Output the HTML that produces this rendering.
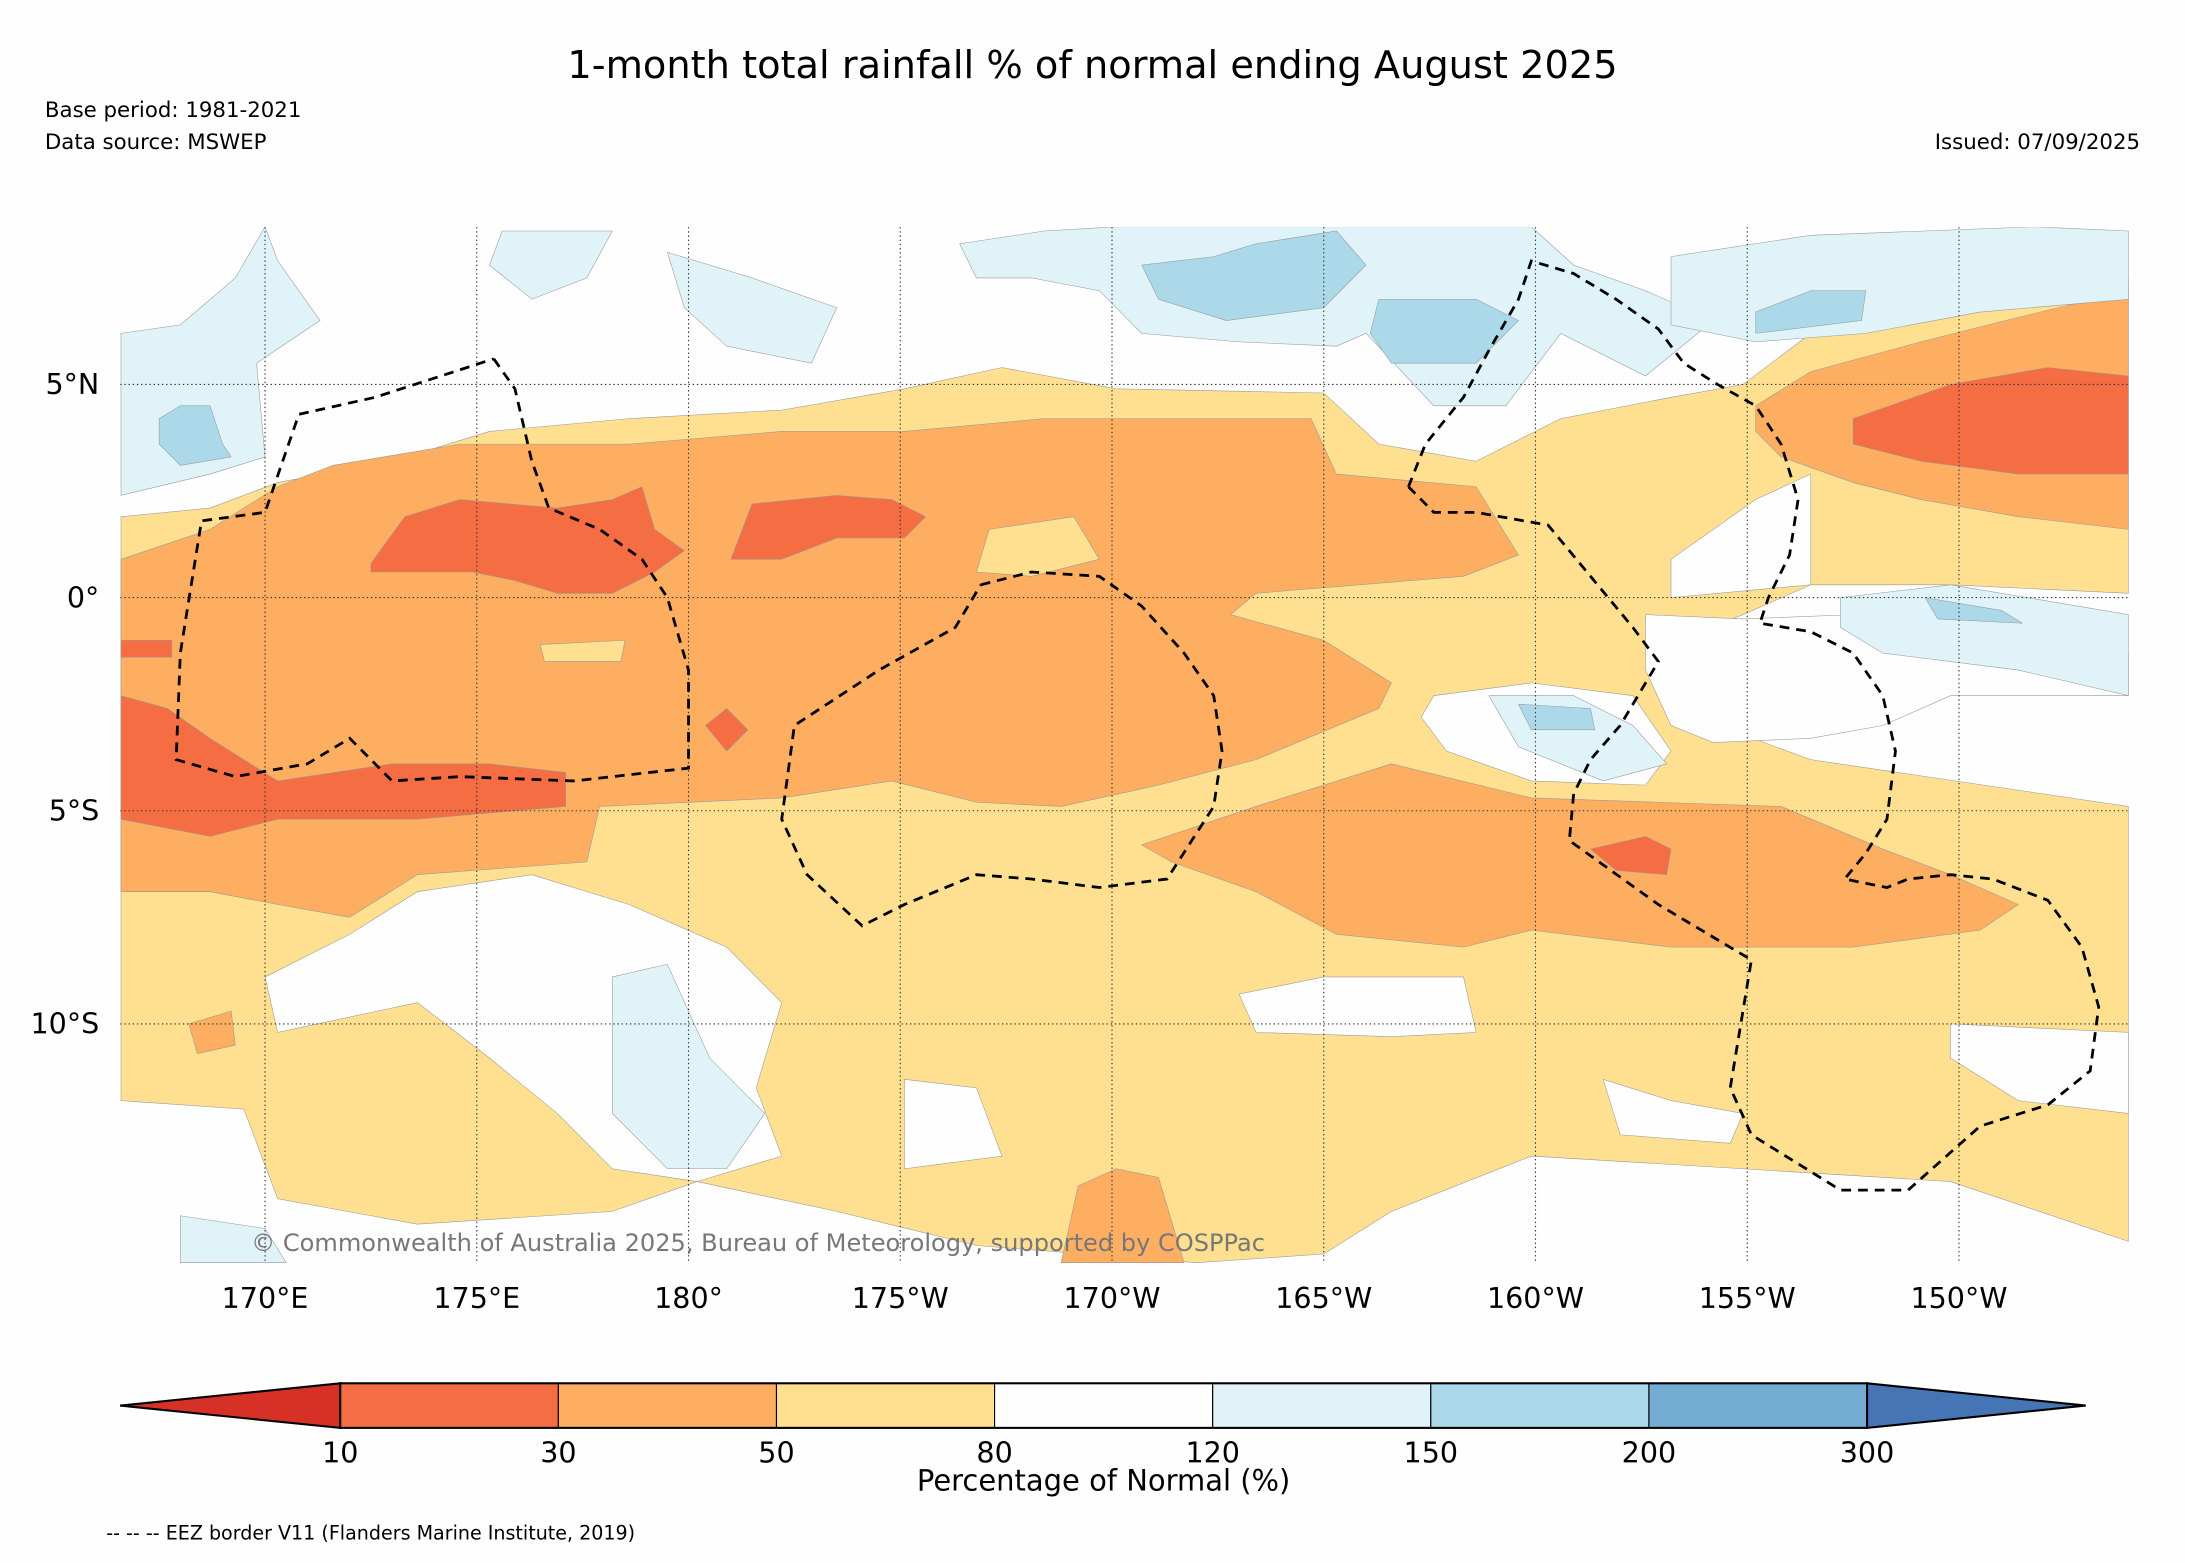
<!DOCTYPE html>
<html><head><meta charset="utf-8"><style>
html,body{margin:0;padding:0;background:#fdfefd;}
svg{display:block;font-family:"DejaVu Sans","Liberation Sans",sans-serif;}
</style></head><body>
<svg id="chart" width="2185" height="1563" viewBox="0 0 1568 1122" xmlns="http://www.w3.org/2000/svg">
<rect width="1568" height="1122" fill="#fdfefd"/>
<text x="784" y="56" font-size="27.5" text-anchor="middle" fill="#000">1-month total rainfall % of normal ending August 2025</text>
<text x="32" y="84" font-size="15.3">Base period: 1981-2021</text>
<text x="32" y="107" font-size="15.3">Data source: MSWEP</text>
<text x="1536" y="107" font-size="15.3" text-anchor="end">Issued: 07/09/2025</text>
<defs><clipPath id="mapclip"><rect x="86" y="163" width="1442" height="744"/></clipPath></defs>
<g id="map" clip-path="url(#mapclip)">
<rect x="86" y="163" width="1442" height="744" fill="#fdfefd"/>
<g id="fills"></g><g id="grid"></g><g id="eez"></g>
</g>
<text x="180" y="898" font-size="17.3" fill="#777">© Commonwealth of Australia 2025, Bureau of Meteorology, supported by COSPPac</text>
<g id="axes"></g>
<g id="colorbar"></g>
<text x="792" y="1070" font-size="20.8" text-anchor="middle">Percentage of Normal (%)</text>
<text x="76" y="1105" font-size="13.7">-- -- -- EEZ border V11 (Flanders Marine Institute, 2019)</text>
</svg>
<script>
const lonTicks=[170,175,180,185,190,195,200,205,210];
const lonLabels=["170°E","175°E","180°","175°W","170°W","165°W","160°W","155°W","150°W"];
const latTicks=[5,0,-5,-10];
const latLabels=["5°N","0°","5°S","10°S"];
const cbBounds=[10,30,50,80,120,150,200,300];
const cbColors=["#f46d43","#fdae61","#fee090","#fdfefd","#e0f3f8","#abd9e9","#74add1"];
const yellowFill=[[166.6,1.9],[168.7,2.1],[170.3,2.7],[173,3.2],[175.3,3.9],[178.6,4.2],[182.2,4.4],[185.1,4.9],[187.4,5.4],[190.1,4.9],[195,4.8],[196.3,3.6],[198.6,3.2],[200.6,4.2],[203.2,4.7],[204.9,5.0],[206.5,6.2],[209.1,7.0],[214,7.5],[214,0.1],[209.8,0.3],[206.5,0.3],[204.9,-0.4],[202.6,-1.3],[203.2,-2.6],[206.5,-3.8],[214,-4.9],[214,-15.1],[209.8,-13.7],[204.9,-13.4],[199.9,-13.1],[196.6,-14.4],[195,-15.4],[192,-15.6],[186.8,-15.2],[183.5,-14.4],[180.2,-13.7],[178.2,-14.4],[173.6,-14.7],[170.3,-14.1],[169.5,-12],[166.6,-11.8]];
const whiteHoles=[
[[173.6,-6.9],[176.3,-6.5],[178.6,-7.2],[180.9,-8.2],[182.2,-9.5],[181.6,-11.5],[182.2,-13.1],[180.2,-13.7],[178.2,-13.4],[176.9,-12.1],[175.3,-10.8],[173.6,-9.5],[170.3,-10.2],[170,-8.9],[172,-7.9]],
[[202.6,-0.4],[204.9,-0.5],[207.5,-0.4],[214,-1.3],[214,-2.3],[209.8,-2.3],[208.2,-3],[206.5,-3.3],[204.2,-3.4],[203.2,-3],[202.6,-1.7]],
[[203.2,0.9],[205.2,2.3],[206.5,2.9],[206.5,0.3],[203.2,0]],
[[197.6,-2.3],[199.9,-2],[202.3,-2.3],[203.2,-3.6],[202.6,-4.4],[199.9,-4.3],[197.9,-3.6],[197.3,-2.8]],
[[193,-9.3],[195,-8.9],[198.3,-8.9],[198.6,-10.2],[196.6,-10.3],[193.4,-10.2]],
[[209.8,-10],[214,-10.2],[214,-12.1],[211.4,-11.8],[209.8,-10.8]],
[[201.6,-11.3],[203.2,-11.8],[204.9,-12.1],[204.6,-12.8],[202,-12.6]],
[[185.1,-11.3],[186.8,-11.5],[187.4,-13.1],[185.1,-13.4]]];
const orangeFills=[
[[166.6,0.9],[168.7,1.6],[170.3,2.6],[171.6,3.1],[174.6,3.6],[178.6,3.6],[182.2,3.9],[185.1,3.9],[188.4,4.2],[191.7,4.2],[194.7,4.2],[195.3,2.9],[198.6,2.6],[199.6,1],[198.3,0.5],[193.4,0.1],[192.8,-0.4],[195,-1],[196.6,-2],[196.3,-2.6],[193.4,-3.8],[191.1,-4.4],[188.8,-4.9],[186.8,-4.8],[184.8,-4.3],[182.2,-4.7],[177.9,-4.9],[177.6,-6.2],[173.6,-6.5],[172,-7.5],[170.3,-7.2],[168.7,-6.9],[166.6,-6.9]],
[[190.7,-5.8],[193.4,-4.9],[196.6,-3.9],[199.9,-4.7],[205.8,-4.9],[208.2,-5.9],[209.8,-6.5],[211.4,-7.2],[210.5,-7.8],[207.5,-8.2],[203.2,-8.2],[199.9,-7.8],[198.3,-8.2],[195.3,-7.9],[193.4,-6.9],[191.4,-6.2]],
[[205.2,4.5],[206.5,5.3],[209.1,6],[211.1,6.5],[214,7.2],[214,1.6],[211.4,1.9],[209.1,2.3],[207.5,2.7],[205.8,3.3],[205.2,3.9]],
[[189.2,-13.8],[190.1,-13.4],[191.1,-13.6],[191.7,-15.6],[188.8,-15.6]],
[[168.2,-10],[169.2,-9.7],[169.3,-10.5],[168.4,-10.7]]];
const yellowInOrange=[[[187.1,1.6],[189.1,1.9],[189.7,0.9],[188.1,0.5],[186.8,0.6]],[[176.5,-1.1],[178.5,-1],[178.4,-1.5],[176.6,-1.5]]];
const redFills=[
[[166.6,-2.3],[167.7,-2.6],[168.7,-3.3],[170.3,-4.3],[173,-3.9],[175.3,-3.9],[177.1,-4.1],[177.1,-4.9],[173.6,-5.2],[170.3,-5.2],[168.7,-5.6],[166.6,-5.2]],
[[172.5,0.8],[173.3,1.9],[174.6,2.3],[176.9,2.1],[178.2,2.3],[178.9,2.6],[179.2,1.6],[179.9,1.1],[179.2,0.6],[178.2,0.1],[176.9,0.1],[175.9,0.4],[174.9,0.6],[173.6,0.6],[172.5,0.6]],
[[181,0.9],[181.5,2.2],[183.5,2.4],[184.8,2.3],[185.6,1.9],[185.1,1.4],[183.5,1.4],[182.2,0.9]],
[[207.5,4.2],[209.8,5],[212.1,5.4],[214,5.2],[214,2.9],[211.4,2.9],[209.1,3.2],[207.5,3.6]],
[[201.3,-5.9],[202.6,-5.6],[203.2,-5.9],[203.1,-6.5],[201.9,-6.4]],
[[180.4,-3],[180.9,-2.6],[181.4,-3.1],[180.9,-3.6]],
[[166.6,-1],[167.8,-1],[167.8,-1.4],[166.6,-1.4]]];
const lightBlueFills=[
[[166.6,6.2],[168,6.4],[169.3,7.5],[170,8.7],[170.3,7.9],[171.3,6.5],[169.8,5.5],[170,3.3],[168.7,2.9],[166.6,2.4]],
[[186.4,8.3],[188.4,8.6],[190.1,8.7],[199.9,8.7],[200.9,7.8],[202.6,7.2],[204.2,6.5],[202.6,5.2],[200.6,6.2],[199.3,4.5],[197.6,4.5],[196,6.2],[195.3,5.9],[193,6],[190.7,6.2],[189.7,7.2],[188.1,7.5],[186.8,7.5]],
[[203.2,8],[206.5,8.5],[211.8,8.7],[214,8.6],[214,7],[210.5,6.7],[207.8,6.2],[205.2,6],[203.2,6.4]],
[[175.6,8.6],[178.2,8.6],[177.6,7.5],[176.3,7],[175.3,7.8]],
[[179.5,8.1],[181.5,7.5],[183.5,6.8],[182.9,5.5],[180.9,5.9],[179.9,6.8]],
[[178.2,-8.9],[179.5,-8.6],[180.5,-10.8],[181.8,-12.1],[180.9,-13.4],[179.5,-13.4],[178.2,-12.1]],
[[207.2,0],[209.8,0.3],[214,-0.4],[214,-2.3],[211.4,-1.7],[208.2,-1.3],[207.2,-0.7]],
[[198.9,-2.3],[200.9,-2.3],[202.3,-3],[203.1,-3.9],[201.6,-4.3],[199.6,-3.5]],
[[168,-14.5],[170,-14.8],[170.5,-15.6],[168,-15.6]]];
const midBlueFills=[
[[167.5,4.2],[168,4.5],[168.7,4.5],[169,3.6],[169.2,3.3],[168,3.1],[167.5,3.6]],
[[190.7,7.8],[192.4,8],[193.4,8.3],[195.3,8.6],[196,7.8],[195,6.8],[192.7,6.5],[191.1,7.0]],
[[196.3,7],[198.6,7],[199.6,6.5],[198.6,5.5],[196.6,5.5],[196.1,6.2]],
[[205.2,6.7],[206.5,7.2],[207.8,7.2],[207.7,6.5],[205.2,6.2]],
[[199.6,-2.5],[201.3,-2.6],[201.4,-3.1],[199.9,-3.1]],
[[209.2,0],[211,-0.3],[211.5,-0.6],[209.5,-0.5]]];
const eezLines=[
[[175.4,5.6],[175.9,4.9],[176.3,3.2],[176.7,2.1],[177.9,1.6],[178.9,0.9],[179.5,0],[180,-1.7],[180,-4],[177.3,-4.3],[174.6,-4.2],[173,-4.3],[172,-3.3],[171,-3.9],[169.3,-4.2],[167.9,-3.8],[168,-1.3],[168.5,1.8],[170,2],[170.8,4.3],[172.6,4.7],[175.4,5.6]],
[[186.9,0.3],[188.1,0.6],[189.7,0.5],[190.7,-0.2],[191.7,-1.3],[192.4,-2.3],[192.6,-3.6],[192.4,-4.9],[191.3,-6.6],[189.7,-6.8],[188.1,-6.6],[186.8,-6.5],[185.1,-7.2],[184.1,-7.7],[182.8,-6.5],[182.2,-5.2],[182.5,-3],[184.5,-1.7],[186.3,-0.7],[186.9,0.3]],
[[197,2.6],[197.6,2],[198.6,2],[200.3,1.7],[201.3,0.5],[202.3,-0.7],[202.9,-1.5],[202,-3],[201.3,-3.8],[200.9,-4.6],[200.8,-5.7],[202.9,-7.2],[205.1,-8.5],[204.6,-11.5],[205.1,-12.6],[207.2,-13.9],[208.8,-13.9],[210.5,-12.4],[212.1,-11.9],[213.1,-11.1],[213.3,-9.6],[212.9,-8.2],[212.1,-7.1],[210.8,-6.6],[209.8,-6.5],[208.8,-6.6],[208.3,-6.8],[207.3,-6.6],[207.8,-6],[208.3,-5.2],[208.5,-3.6],[208.2,-2.3],[207.5,-1.3],[206.5,-0.8],[205.3,-0.6],[205.5,0],[206,1],[206.2,2.3],[205.8,3.6],[205.2,4.5],[204.3,5],[203.5,5.5],[202.9,6.3],[201.9,7],[200.9,7.6],[199.9,7.9],[199.6,7],[198.9,5.8],[198.3,4.7],[197.4,3.6],[197,2.6]]];

const NS='http://www.w3.org/2000/svg';
const X=lon=>190+(lon-170)*30.4;
const Y=lat=>429-lat*30.6;
function mk(tag,attrs,parent){const e=document.createElementNS(NS,tag);for(const k in attrs)e.setAttribute(k,attrs[k]);parent.appendChild(e);return e;}
function pathOf(pts,close){return pts.map((p,i)=>(i?'L':'M')+X(p[0]).toFixed(1)+' '+Y(p[1]).toFixed(1)).join(' ')+(close?' Z':'');}
const fills=document.getElementById('fills');
function layer(list,color,name){list.forEach(pts=>{const p=mk('path',{d:pathOf(pts,true),fill:color,stroke:'#999','stroke-width':0.4},fills);

});}
layer([yellowFill],'#fee090','rain-50-80-region');
layer(whiteHoles,'#fdfefd','rain-80-120-region');
layer(orangeFills,'#fdae61','rain-30-50-region');
layer(yellowInOrange,'#fee090','rain-50-80-region');
layer(redFills,'#f46d43','rain-10-30-region');
layer(lightBlueFills,'#e0f3f8','rain-120-150-region');
layer(midBlueFills,'#abd9e9','rain-150-200-region');
const grid=document.getElementById('grid');
lonTicks.forEach(l=>{const g=mk('line',{x1:X(l),x2:X(l),y1:163,y2:907,stroke:'#333','stroke-width':0.8,'stroke-dasharray':'1,2'},grid);

});
latTicks.forEach(l=>{const g=mk('line',{x1:86,x2:1528,y1:Y(l),y2:Y(l),stroke:'#333','stroke-width':0.8,'stroke-dasharray':'1,2'},grid);

});
const eez=document.getElementById('eez');
eezLines.forEach(pts=>{const e=mk('path',{d:pathOf(pts,false),fill:'none',stroke:'#000','stroke-width':2,'stroke-dasharray':'7,5'},eez);

});
const axes=document.getElementById('axes');
lonTicks.forEach((l,i)=>{const t=mk('text',{x:X(l),y:939,'font-size':20.5,'text-anchor':'middle'},axes);t.textContent=lonLabels[i];

});
latTicks.forEach((l,i)=>{const t=mk('text',{x:71,y:Y(l)+7,'font-size':20.5,'text-anchor':'end'},axes);t.textContent=latLabels[i];

});
const cb=document.getElementById('colorbar');
const cx0=244,cx1=1340,cy0=993,cy1=1025,n=cbColors.length,seg=(cx1-cx0)/n;
const lt=mk('path',{d:`M${cx0} ${cy0} L86 ${(cy0+cy1)/2} L${cx0} ${cy1} Z`,fill:'#d73027',stroke:'#000','stroke-width':1.5},cb);


const rt=mk('path',{d:`M${cx1} ${cy0} L1497 ${(cy0+cy1)/2} L${cx1} ${cy1} Z`,fill:'#4575b4',stroke:'#000','stroke-width':1.5},cb);


cbColors.forEach((c,i)=>{const r=mk('rect',{x:cx0+i*seg,y:cy0,width:seg,height:cy1-cy0,fill:c,stroke:'#000','stroke-width':0.8},cb);

});
mk('rect',{x:cx0,y:cy0,width:cx1-cx0,height:cy1-cy0,fill:'none',stroke:'#000','stroke-width':1.5},cb);
cbBounds.forEach((b,i)=>{const t=mk('text',{x:cx0+i*seg,y:1050,'font-size':20.5,'text-anchor':'middle'},cb);t.textContent=b;

});
</script>
</body></html>
